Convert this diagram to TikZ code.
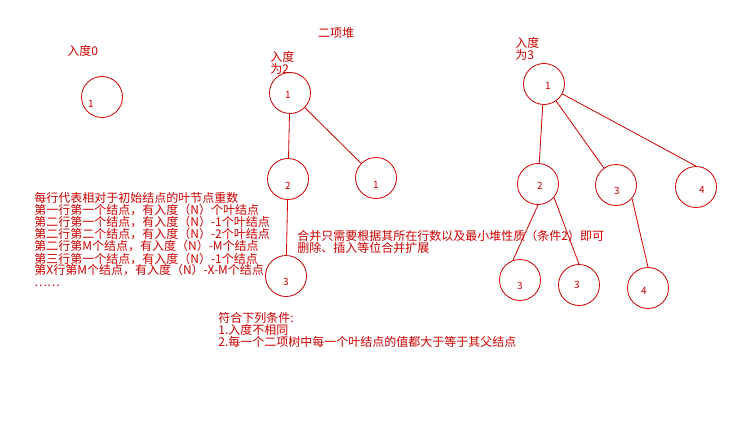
\documentclass[tikz,border=0pt]{standalone}
\usepackage{fontspec}
\setmainfont{Noto Sans CJK SC}
\definecolor{heapred}{RGB}{204,0,0}

\begin{document}
\begin{tikzpicture}[x=1pt,y=-1pt,heapred,line width=0.8pt,
    heap node/.style={circle,draw,minimum size=41pt,inner sep=0pt},
    digit/.style={font=\fontsize{10}{12}\selectfont,inner sep=0pt},
    note/.style={align=left,inner sep=0pt,font=\fontsize{12}{12}\selectfont}]

	\fill[white] (0,0) rectangle (751,422);
	\useasboundingbox (0,0) rectangle (751,422);

	\node[note] (title) at (336,33) {二项堆};

	\node[note,anchor=west] (deg0) at (67,51) {入度0};
	\node[heap node,label={[digit,shift={(-11,7)}]center:1}] (t0) at (102,97) {};

	\node[note,anchor=north west] (deg2) at (270,51) {入度\\为2};
	\node[heap node,label={[digit,shift={(-2,2)}]center:1}] (r2) at (290,93) {};
	\node[heap node,label={[digit,shift={(0,7)}]center:2}] (a2) at (288,179) {};
	\node[heap node,label={[digit,shift={(0,7)}]center:1}] (b2) at (376,178) {};
	\node[heap node,label={[digit,shift={(0,6)}]center:3}] (c2) at (286,276) {};

	\node[note,anchor=north west] (deg3) at (515,37) {入度\\为3};
	\node[heap node,label={[digit,shift={(4,2)}]center:1}] (r3) at (544,84) {};
	\node[heap node,label={[digit,shift={(2,2)}]center:2}] (a3) at (538,184) {};
	\node[heap node,label={[digit,shift={(1,6)}]center:3}] (b3) at (616,185) {};
	\node[heap node,label={[digit,shift={(6,3)}]center:4}] (c3) at (696,187) {};
	\node[heap node,label={[digit,shift={(0,6)}]center:3}] (d3) at (520,280) {};
	\node[heap node,label={[digit,shift={(-2,0)}]center:3}] (e3) at (579,285) {};
	\node[heap node,label={[digit,shift={(-4,3)}]center:4}] (f3) at (648,288) {};

	\path[]
	(r2) edge (a2)
	(r2) edge (b2)
	(a2) edge (c2)
	(r3) edge (a3)
	(r3) edge (b3)
	(r3) edge (c3.north)
	(a3.south) edge (d3.110)
	(a3.-40) edge (e3.north)
	(b3.-40) edge (f3.north);

	\node[note,anchor=west] (rows) at (34,240) {每行代表相对于初始结点的叶节点重数\\
	第一行第一个结点，有入度（N）个叶结点\\
	第二行第一个结点，有入度（N）-1个叶结点\\
	第二行第二个结点，有入度（N）-2个叶结点\\
	第二行第M个结点，有入度（N）-M个结点\\
	第三行第一个结点，有入度（N）-1个结点\\
	第X行第M个结点，有入度（N）-X-M个结点\\
	……};

	\node[note,anchor=west] (merge) at (297,242) {合并只需要根据其所在行数以及最小堆性质（条件2）即可\\
	删除、插入等位合并扩展};

	\node[note,anchor=west] (rules) at (218,330) {符合下列条件:\\
	1.入度不相同\\
	2.每一个二项树中每一个叶结点的值都大于等于其父结点};

\end{tikzpicture}
\end{document}
